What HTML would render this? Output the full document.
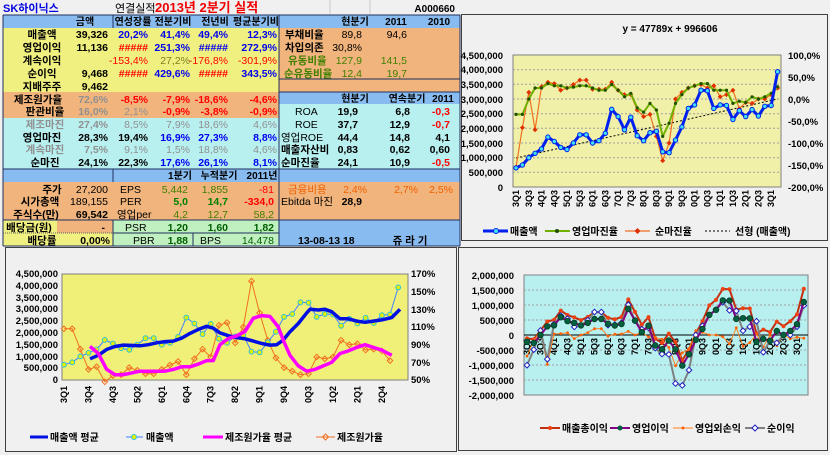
<!DOCTYPE html>
<html><head><meta charset="utf-8"><style>
body{margin:0;background:#f0f0f0;}
svg{display:block;font-family:"Liberation Sans","Noto Sans CJK KR","NanumGothic",sans-serif;font-weight:bold;}
.xl text{font-size:9px;text-anchor:end;}
</style></head><body>
<svg width="830" height="455" viewBox="0 0 830 455" xmlns="http://www.w3.org/2000/svg">
<defs>
<marker id="mB" markerUnits="userSpaceOnUse" markerWidth="8" markerHeight="8" refX="4" refY="4"><circle cx="4" cy="4" r="2.2" fill="#40e0f0" stroke="#0020f0" stroke-width="1"/></marker>
<marker id="mG" markerUnits="userSpaceOnUse" markerWidth="6" markerHeight="6" refX="3" refY="3"><circle cx="3" cy="3" r="1.6" fill="#205000"/></marker>
<marker id="mR" markerUnits="userSpaceOnUse" markerWidth="8" markerHeight="8" refX="4" refY="4"><polygon points="4,1.5 6.5,4 4,6.5 1.5,4" fill="#e03000"/></marker>
<marker id="mS" markerUnits="userSpaceOnUse" markerWidth="8" markerHeight="8" refX="4" refY="4"><circle cx="4" cy="4" r="2.4" fill="#e0f000" stroke="#30c0e0" stroke-width="1"/></marker>
<marker id="mC" markerUnits="userSpaceOnUse" markerWidth="8" markerHeight="8" refX="4" refY="4"><polygon points="4,1.2 6.8,4 4,6.8 1.2,4" fill="none" stroke="#f07020" stroke-width="1"/></marker>
<marker id="mGr" markerUnits="userSpaceOnUse" markerWidth="6" markerHeight="6" refX="3" refY="3"><circle cx="3" cy="3" r="2" fill="#f04010"/></marker>
<marker id="mO" markerUnits="userSpaceOnUse" markerWidth="8" markerHeight="8" refX="4" refY="4"><circle cx="4" cy="4" r="2.8" fill="#006040" stroke="#004020" stroke-width="0.8"/></marker>
<marker id="mN" markerUnits="userSpaceOnUse" markerWidth="4" markerHeight="4" refX="2" refY="2"><circle cx="2" cy="2" r="1.4" fill="#ff6000"/></marker>
<marker id="mT" markerUnits="userSpaceOnUse" markerWidth="8" markerHeight="8" refX="4" refY="4"><polygon points="4,1.2 6.8,4 4,6.8 1.2,4" fill="#fff" stroke="#2020c0" stroke-width="1"/></marker>
</defs>
<rect width="830" height="455" fill="#f0f0f0"/>
<text x="3" y="12" fill="#0000e0" font-size="11">SK하이닉스</text>
<text x="115" y="12" fill="#000" font-size="11" font-weight="normal">연결실적</text>
<text x="155" y="12" fill="#f00000" font-size="13">2013년 2분기 실적</text>
<text x="455" y="12" fill="#000" font-size="10" text-anchor="end">A000660</text>
<line x1="330" y1="0" x2="330" y2="14" stroke="#c8c8c8"/><line x1="370" y1="0" x2="370" y2="14" stroke="#c8c8c8"/>
<rect x="3" y="15" width="457" height="13" fill="#88bcf0"/>
<rect x="3" y="28" width="276" height="64" fill="#f0f080"/>
<rect x="279" y="28" width="181" height="64" fill="#f0b47c"/>
<rect x="3" y="92" width="276" height="26" fill="#f0b47c"/>
<rect x="279" y="92" width="181" height="12" fill="#88bcf0"/>
<rect x="279" y="104" width="181" height="65" fill="#b8f0f0"/>
<rect x="3" y="118" width="276" height="51" fill="#b8f0f0"/>
<rect x="3" y="169" width="457" height="13" fill="#88bcf0"/>
<rect x="3" y="182" width="457" height="38" fill="#f0b47c"/>
<rect x="3" y="220" width="54" height="26" fill="#f0f080"/>
<rect x="57" y="220" width="56" height="13" fill="#f0b47c"/>
<rect x="57" y="233" width="56" height="13" fill="#f0f080"/>
<rect x="113" y="220" width="166" height="26" fill="#c0f0c0"/>
<rect x="279" y="220" width="181" height="26" fill="#88bcf0"/>
<g stroke="#203060" stroke-width="1">
<line x1="3" y1="15" x2="460" y2="15"/><line x1="3" y1="15" x2="3" y2="246"/><line x1="460" y1="15" x2="460" y2="246"/>
<line x1="279" y1="15" x2="279" y2="246"/><line x1="113" y1="15" x2="113" y2="28"/>
<line x1="279" y1="79" x2="460" y2="79"/><line x1="279" y1="92" x2="460" y2="92"/>
<line x1="3" y1="169" x2="460" y2="169"/><line x1="113" y1="169" x2="113" y2="182"/>
<line x1="3" y1="220" x2="460" y2="220"/><line x1="113" y1="220" x2="113" y2="246"/>
<line x1="193" y1="233" x2="193" y2="246"/><line x1="113" y1="233" x2="279" y2="233"/>
<line x1="3" y1="246" x2="460" y2="246"/>
</g>
<line x1="3" y1="233" x2="113" y2="233" stroke="#606060" stroke-dasharray="1,1"/>
<g font-size="10.5">
<g fill="#000" text-anchor="middle" font-size="10">
<text x="85" y="25">금액</text><text x="133" y="25">연성장률</text><text x="173" y="25">전분기비</text>
<text x="215" y="25">전년비</text><text x="256" y="25">평균분기비</text>
<text x="355" y="25">현분기</text><text x="396" y="25">2011</text><text x="439" y="25">2010</text>
<text x="355" y="102">현분기</text><text x="407" y="102">연속분기</text><text x="443" y="102">2011</text>
<text x="180" y="179">1분기</text><text x="219" y="179">누적분기</text><text x="262" y="179">2011년</text>
</g>
<g text-anchor="middle" fill="#000">
<text x="42" y="38">매출액</text><text x="42" y="51">영업이익</text><text x="42" y="64">계속이익</text>
<text x="42" y="77">순이익</text><text x="42" y="90">지배주주</text>
<text x="38" y="103">제조원가율</text><text x="45" y="115">판관비율</text><text x="45" y="128" fill="#909090">제조마진</text>
<text x="42" y="141">영업마진</text><text x="45" y="153" fill="#909090">계속마진</text><text x="45" y="166">순마진</text>
<text x="52" y="193">주가</text><text x="40" y="205">시가총액</text><text x="36" y="218">주식수(만)</text>
<text x="29" y="231">배당금(원)</text><text x="42" y="244">배당률</text>
</g>
<g text-anchor="end">
<text x="108" y="38">39,326</text><text x="108" y="51">11,136</text><text x="108" y="77">9,468</text><text x="108" y="90">9,462</text>
<text x="108" y="103" fill="#909090">72,6%</text><text x="108" y="115" fill="#909090">16,0%</text><text x="108" y="128" fill="#909090">27,4%</text>
<text x="108" y="141">28,3%</text><text x="108" y="153" fill="#909090">7,5%</text><text x="108" y="166">24,1%</text>
<text x="108" y="193" font-weight="normal">27,200</text><text x="108" y="205" font-weight="normal">189,155</text><text x="108" y="218">69,542</text>
<text x="105" y="231">-</text><text x="110" y="244">0,00%</text>
<text x="148" y="38" fill="#0000f0">20,2%</text><text x="148" y="51" fill="#f00">#####</text><text x="148" y="64" fill="#f00" font-weight="normal">-153,4%</text>
<text x="148" y="77" fill="#f00">#####</text><text x="148" y="103" fill="#f00">-8,5%</text><text x="148" y="115" fill="#909090" font-weight="normal">2,1%</text>
<text x="148" y="128" fill="#909090" font-weight="normal">8,5%</text><text x="148" y="141">19,4%</text><text x="148" y="153" fill="#909090" font-weight="normal">9,1%</text><text x="148" y="166">22,3%</text>
<text x="190" y="38" fill="#0000f0">41,4%</text><text x="190" y="51" fill="#0000f0">251,3%</text><text x="190" y="64" fill="#808020" font-weight="normal">27,2%</text>
<text x="190" y="77" fill="#0000f0">429,6%</text><text x="190" y="103" fill="#f00">-7,9%</text><text x="190" y="115" fill="#f00">-0,9%</text>
<text x="190" y="128" fill="#909090" font-weight="normal">7,9%</text><text x="190" y="141" fill="#0000f0">16,9%</text><text x="190" y="153" fill="#909090" font-weight="normal">1,5%</text><text x="190" y="166" fill="#0000f0">17,6%</text>
<text x="228" y="38" fill="#0000f0">49,4%</text><text x="228" y="51" fill="#0000f0">#####</text><text x="228" y="64" fill="#f00" font-weight="normal">-176,8%</text>
<text x="228" y="77" fill="#f00">#####</text><text x="228" y="103" fill="#f00">-18,6%</text><text x="228" y="115" fill="#f00">-3,8%</text>
<text x="228" y="128" fill="#909090" font-weight="normal">18,6%</text><text x="228" y="141" fill="#0000f0">27,3%</text><text x="228" y="153" fill="#909090" font-weight="normal">18,8%</text><text x="228" y="166" fill="#0000f0">26,1%</text>
<text x="277" y="38" fill="#0000f0">12,3%</text><text x="277" y="51" fill="#0000f0">272,9%</text><text x="277" y="64" fill="#f00" font-weight="normal">-301,9%</text>
<text x="277" y="77" fill="#0000f0">343,5%</text><text x="277" y="103" fill="#f00">-4,6%</text><text x="277" y="115" fill="#f00">-0,9%</text>
<text x="277" y="128" fill="#909090" font-weight="normal">4,6%</text><text x="277" y="141" fill="#0000f0">8,8%</text><text x="277" y="153" fill="#909090" font-weight="normal">4,6%</text><text x="277" y="166" fill="#0000f0">8,1%</text>
<text x="188" y="193" fill="#408000" font-weight="normal">5,442</text><text x="228" y="193" fill="#408000" font-weight="normal">1,855</text><text x="274" y="193" fill="#f00" font-weight="normal">-81</text>
<text x="188" y="205" fill="#008000">5,0</text><text x="228" y="205" fill="#008000">14,7</text><text x="274" y="205" fill="#f00">-334,0</text>
<text x="188" y="218" fill="#408000" font-weight="normal">4,2</text><text x="228" y="218" fill="#408000" font-weight="normal">12,7</text><text x="274" y="218" fill="#408000" font-weight="normal">58,2</text>
<text x="188" y="231" fill="#006000">1,20</text><text x="228" y="231" fill="#006000">1,60</text><text x="274" y="231" fill="#006000">1,82</text>
<text x="188" y="244" fill="#006000">1,88</text><text x="274" y="244" fill="#006000" font-weight="normal">14,478</text>
<text x="362" y="38" font-weight="normal">89,8</text><text x="407" y="38" font-weight="normal">94,6</text>
<text x="362" y="51" font-weight="normal">30,8%</text>
<text x="362" y="64" fill="#408000" font-weight="normal">127,9</text><text x="407" y="64" fill="#408000" font-weight="normal">141,5</text>
<text x="362" y="77" fill="#408000" font-weight="normal">12,4</text><text x="407" y="77" fill="#408000" font-weight="normal">19,7</text>
<text x="358" y="115">19,9</text><text x="410" y="115">6,8</text><text x="450" y="115" fill="#f00">-0,3</text>
<text x="358" y="128">37,7</text><text x="410" y="128">12,9</text><text x="450" y="128" fill="#f00">-0,7</text>
<text x="358" y="141">44,4</text><text x="410" y="141">14,8</text><text x="450" y="141">4,1</text>
<text x="358" y="153">0,83</text><text x="410" y="153">0,62</text><text x="450" y="153">0,60</text>
<text x="358" y="166">24,1</text><text x="410" y="166">10,9</text><text x="450" y="166" fill="#f00">-0,5</text>
<text x="367" y="193" fill="#f06000" font-weight="normal">2,4%</text><text x="418" y="193" fill="#f06000" font-weight="normal">2,7%</text><text x="453" y="193" fill="#f06000" font-weight="normal">2,5%</text>
<text x="362" y="205">28,9</text>
</g>
<g fill="#000">
<text x="285" y="38">부채비율</text><text x="285" y="51">차입의존</text>
<text x="288" y="64" fill="#408000">유동비율</text><text x="284" y="77" fill="#408000">순유동비율</text>
<text x="295" y="115" font-weight="normal">ROA</text><text x="295" y="128" font-weight="normal">ROE</text>
<text x="281" y="141" font-weight="normal">영업ROE</text><text x="281" y="153">매출자산비</text><text x="281" y="166">순마진율</text>
<text x="288" y="193" fill="#f06000" font-weight="normal">금융비용</text><text x="281" y="205" font-weight="normal">Ebitda 마진</text>
<text x="120" y="193" font-weight="normal">EPS</text><text x="120" y="205" font-weight="normal">PER</text><text x="117" y="218" font-weight="normal">영업per</text>
<text x="125" y="231" font-weight="normal">PSR</text><text x="133" y="244" font-weight="normal">PBR</text><text x="200" y="244" font-weight="normal">BPS</text>
<text x="298" y="244">13-08-13 18</text><text x="410" y="244" text-anchor="middle">쥬 라 기</text>
</g>
</g>
<!-- panels -->
<rect x="461.5" y="14.5" width="366" height="226" fill="#f0f0f0" stroke="#404040"/>
<rect x="5.5" y="247.5" width="451" height="204" fill="#f0f0f0" stroke="#404040"/>
<rect x="458.5" y="247.5" width="369" height="203" fill="#f0f0f0" stroke="#404040"/>
<rect x="513" y="55" width="268" height="132" fill="#f0f0a8" stroke="#808080"/>
<rect x="62" y="274" width="346" height="106" fill="#f0f078" stroke="#808080"/>
<rect x="524" y="275" width="284" height="120" fill="#b8f0f0" stroke="#808080"/>
<g stroke="#a0a0a0" stroke-dasharray="2,2">
<line x1="513" x2="781" y1="69.7" y2="69.7"/><line x1="513" x2="781" y1="84.3" y2="84.3"/><line x1="513" x2="781" y1="99" y2="99"/><line x1="513" x2="781" y1="113.7" y2="113.7"/><line x1="513" x2="781" y1="128.3" y2="128.3"/><line x1="513" x2="781" y1="143" y2="143"/><line x1="513" x2="781" y1="157.7" y2="157.7"/><line x1="513" x2="781" y1="172.3" y2="172.3"/>
<line x1="524" x2="808" y1="290" y2="290"/><line x1="524" x2="808" y1="305" y2="305"/><line x1="524" x2="808" y1="320" y2="320"/><line x1="524" x2="808" y1="350" y2="350"/><line x1="524" x2="808" y1="365" y2="365"/><line x1="524" x2="808" y1="380" y2="380"/>
</g>
<line x1="524" x2="808" y1="335" y2="335" stroke="#000"/>
<text x="670" y="32" font-size="10" text-anchor="middle">y = 47789x + 996606</text>
<g font-size="9.5" text-anchor="end">
<text x="503" y="59">4,500,000</text><text x="503" y="73">4,000,000</text><text x="503" y="88">3,500,000</text><text x="503" y="103">3,000,000</text><text x="503" y="117">2,500,000</text><text x="503" y="132">2,000,000</text><text x="503" y="147">1,500,000</text><text x="503" y="161">1,000,000</text><text x="503" y="176">500,000</text><text x="503" y="191">0</text>
<text x="58" y="277">4,500,000</text><text x="58" y="289">4,000,000</text><text x="58" y="301">3,500,000</text><text x="58" y="312">3,000,000</text><text x="58" y="324">2,500,000</text><text x="58" y="336">2,000,000</text><text x="58" y="348">1,500,000</text><text x="58" y="360">1,000,000</text><text x="58" y="371">500,000</text><text x="58" y="383">0</text>
<text x="514" y="279">2,000,000</text><text x="514" y="294">1,500,000</text><text x="514" y="309">1,000,000</text><text x="514" y="324">500,000</text><text x="514" y="339">0</text><text x="514" y="354">-500,000</text><text x="514" y="369">-1,000,000</text><text x="514" y="384">-1,500,000</text><text x="514" y="399">-2,000,000</text>
</g>
<g font-size="9.5">
<text x="788" y="59">100,0%</text><text x="788" y="81">50,0%</text><text x="788" y="103">0,0%</text><text x="788" y="125">-50,0%</text><text x="788" y="147">-100,0%</text><text x="788" y="169">-150,0%</text><text x="788" y="191">-200,0%</text>
<text x="411" y="277">170%</text><text x="411" y="295">150%</text><text x="411" y="313">130%</text><text x="411" y="330">110%</text><text x="411" y="348">90%</text><text x="411" y="366">70%</text><text x="411" y="383">50%</text>
</g>
<!-- top-right series -->
<g fill="none" stroke-linejoin="round">
<polyline stroke="#000" stroke-dasharray="2,2" points="516,158 777.6,99"/>
<polyline stroke="#f07020" stroke-width="1.2" marker-start="url(#mR)" marker-mid="url(#mR)" marker-end="url(#mR)" points="516,167.2 522.4,127.6 528.8,92.4 535.1,129.8 541.5,86.7 547.9,82.3 554.3,83.6 560.7,90.2 567,88 573.4,84.5 579.8,80.1 586.2,80.1 592.6,89.3 598.9,89.3 605.3,89.3 611.7,82.3 618.1,90.2 624.5,94.6 630.8,94.6 637.2,110 643.6,116.6 650,114.4 656.4,136.4 662.7,160.6 669.1,143 675.5,99 681.9,92.4 688.3,88 694.6,85.8 701,84.5 707.4,88 713.8,85.8 720.2,96.8 726.5,94.6 732.9,90.2 739.3,108.7 745.7,102.5 752.1,103.4 758.4,99 764.8,99 771.2,94.6 777.6,88"/>
<polyline stroke="#70b000" stroke-width="2" marker-start="url(#mG)" marker-mid="url(#mG)" marker-end="url(#mG)" points="516,114.4 522.4,114.4 528.8,99 535.1,88 541.5,88 547.9,83.6 554.3,85.8 560.7,85.8 567,88 573.4,87.1 579.8,85.8 586.2,85.8 592.6,88 598.9,90.2 605.3,90.2 611.7,84.5 618.1,90.2 624.5,96.8 630.8,93.3 637.2,107.8 643.6,112.2 650,103.4 656.4,110 662.7,136.4 669.1,123.2 675.5,103.4 681.9,94.6 688.3,88 694.6,85.8 701,83.6 707.4,83.6 713.8,90.2 720.2,90.2 726.5,90.2 732.9,103.4 739.3,101.2 745.7,102.5 752.1,96.8 758.4,99 764.8,96.8 771.2,93.3 777.6,86.7"/>
<polyline stroke="#0020f0" stroke-width="3" marker-start="url(#mB)" marker-mid="url(#mB)" marker-end="url(#mB)" points="516,167.9 522.4,165 528.8,157.7 535.1,153.3 541.5,148.9 547.9,137.1 554.3,141.5 560.7,147.4 567,149.5 573.4,143 579.8,134.8 586.2,134.8 592.6,143 598.9,140.7 605.3,133.3 611.7,109.3 618.1,116.6 624.5,129.8 630.8,117.2 637.2,135.7 643.6,140.7 650,132.7 656.4,131.3 662.7,151.8 669.1,152.7 675.5,140.1 681.9,126.9 688.3,108.4 694.6,104.9 701,90.2 707.4,90.8 713.8,108.4 720.2,104.9 726.5,105.5 732.9,119.5 739.3,110.7 745.7,116.6 752.1,109.6 758.4,116 764.8,106.3 771.2,105.5 777.6,71.7"/>
</g>
<g class="xl">
<text transform="translate(519,190) rotate(-90)">3Q1</text><text transform="translate(531.8,190) rotate(-90)">3Q3</text><text transform="translate(544.5,190) rotate(-90)">4Q1</text><text transform="translate(557.3,190) rotate(-90)">4Q3</text><text transform="translate(570,190) rotate(-90)">5Q1</text><text transform="translate(582.8,190) rotate(-90)">5Q3</text><text transform="translate(595.6,190) rotate(-90)">6Q1</text><text transform="translate(608.3,190) rotate(-90)">6Q3</text><text transform="translate(621.1,190) rotate(-90)">7Q1</text><text transform="translate(633.8,190) rotate(-90)">7Q3</text><text transform="translate(646.6,190) rotate(-90)">8Q1</text><text transform="translate(659.4,190) rotate(-90)">8Q3</text><text transform="translate(672.1,190) rotate(-90)">9Q1</text><text transform="translate(684.9,190) rotate(-90)">9Q3</text><text transform="translate(697.6,190) rotate(-90)">0Q1</text><text transform="translate(710.4,190) rotate(-90)">0Q3</text><text transform="translate(723.2,190) rotate(-90)">1Q1</text><text transform="translate(735.9,190) rotate(-90)">1Q3</text><text transform="translate(748.7,190) rotate(-90)">2Q1</text><text transform="translate(761.4,190) rotate(-90)">2Q3</text><text transform="translate(774.2,190) rotate(-90)">3Q1</text>
</g>
<!-- bottom-left series -->
<g fill="none" stroke-linejoin="round">
<polyline stroke="#f07020" stroke-width="1" marker-start="url(#mC)" marker-mid="url(#mC)" marker-end="url(#mC)" points="64,328.8 72.2,328.8 80.3,349.1 88.5,369.4 96.6,366.8 104.8,381.8 112.9,375.6 121.1,374.7 129.2,367.6 137.4,370.3 145.5,373.8 153.7,373.8 161.8,369.4 170,365 178.1,361.5 186.3,374.7 194.4,358.8 202.6,349.1 210.7,357 218.9,325.2 227,322.6 235.2,342.9 243.3,327 251.5,281.1 259.6,312.9 267.8,340.3 275.9,357.9 284.1,367.6 292.2,371.2 300.4,374.7 308.5,373.8 316.7,357 324.8,358.8 333,357 341.1,340.3 349.3,344.7 357.4,343.8 365.6,350 373.7,349.1 381.9,350.9 390,360.6"/>
<polyline stroke="#4080ff" stroke-width="1" marker-start="url(#mS)" marker-mid="url(#mS)" marker-end="url(#mS)" points="64,364.7 72.2,362.3 80.3,356.4 88.5,352.9 96.6,349.4 104.8,340 112.9,343.5 121.1,348.2 129.2,349.8 137.4,344.7 145.5,338.1 153.7,338.1 161.8,344.7 170,342.8 178.1,336.9 186.3,317.6 194.4,323.5 202.6,334.1 210.7,323.9 218.9,338.8 227,342.8 235.2,336.4 243.3,335.2 251.5,351.7 259.6,352.4 267.8,342.3 275.9,331.7 284.1,316.9 292.2,314 300.4,302.3 308.5,302.7 316.7,316.9 324.8,314 333,314.5 341.1,325.8 349.3,318.8 357.4,323.5 365.6,317.8 373.7,323 381.9,315.2 390,314.5 398.2,287.4"/>
<polyline stroke="#0010e0" stroke-width="3.5" points="90,358.8 98.3,355.3 106.7,349.4 115,346.5 123.3,345.1 131.7,345.4 140,345.8 148.3,344.7 156.7,342.8 165,341.6 173.3,341.1 181.7,338.1 190,333.4 198.3,329.4 206.7,326.3 213.3,328.2 220,332.9 228.3,335.7 236.7,337.6 245,338.8 253.3,341.1 261.7,343.5 270,345.1 276.7,344.7 283.3,340 290,331.7 298.3,323.5 306.7,312.9 310,309.3 318.3,310 325,309.3 331.7,311.7 340,318.8 348.3,318.8 356.7,321.1 365,322.3 373.3,321.1 381.7,319.9 391.7,317.6 400,309.3"/>
<polyline stroke="#ff00ff" stroke-width="3.5" points="90,346.4 98.3,353.5 106.7,369.4 115,374.7 123.3,374.7 131.7,372.9 140,371.2 148.3,371.2 156.7,371.2 165,371.2 173.3,369.4 181.7,366.8 190,366.8 198.3,364.1 206.7,360.6 213.3,360.6 220,344.7 228.3,338.5 236.7,335.8 245,331.4 253.3,318.2 261.7,315.6 270,316.4 278.3,327 283.3,340.3 290,355.3 298.3,365.9 306.7,371.2 315,369.4 323.3,365.9 331.7,362.3 340,353.5 348.3,350.9 356.7,347.4 365,344.7 373.3,347.4 381.7,350 391.7,355.3"/>
</g>
<g class="xl">
<text transform="translate(67,386) rotate(-90)">3Q1</text><text transform="translate(91.5,386) rotate(-90)">3Q4</text><text transform="translate(115.9,386) rotate(-90)">4Q3</text><text transform="translate(140.4,386) rotate(-90)">5Q2</text><text transform="translate(164.8,386) rotate(-90)">6Q1</text><text transform="translate(189.3,386) rotate(-90)">6Q4</text><text transform="translate(213.7,386) rotate(-90)">7Q3</text><text transform="translate(238.2,386) rotate(-90)">8Q2</text><text transform="translate(262.6,386) rotate(-90)">9Q1</text><text transform="translate(287.1,386) rotate(-90)">9Q4</text><text transform="translate(311.5,386) rotate(-90)">0Q3</text><text transform="translate(336,386) rotate(-90)">1Q2</text><text transform="translate(360.4,386) rotate(-90)">2Q1</text><text transform="translate(384.9,386) rotate(-90)">2Q4</text>
</g>
<!-- bottom-right series -->
<g class="xl">
<text transform="translate(530,338) rotate(-90)">3Q1</text><text transform="translate(543.5,338) rotate(-90)">3Q3</text><text transform="translate(557,338) rotate(-90)">4Q1</text><text transform="translate(570.5,338) rotate(-90)">4Q3</text><text transform="translate(584,338) rotate(-90)">5Q1</text><text transform="translate(597.5,338) rotate(-90)">5Q3</text><text transform="translate(611,338) rotate(-90)">6Q1</text><text transform="translate(624.5,338) rotate(-90)">6Q3</text><text transform="translate(638,338) rotate(-90)">7Q1</text><text transform="translate(651.5,338) rotate(-90)">7Q3</text><text transform="translate(665,338) rotate(-90)">8Q1</text><text transform="translate(678.5,338) rotate(-90)">8Q3</text><text transform="translate(692,338) rotate(-90)">9Q1</text><text transform="translate(705.5,338) rotate(-90)">9Q3</text><text transform="translate(719,338) rotate(-90)">0Q1</text><text transform="translate(732.5,338) rotate(-90)">0Q3</text><text transform="translate(746,338) rotate(-90)">1Q1</text><text transform="translate(759.5,338) rotate(-90)">1Q3</text><text transform="translate(773,338) rotate(-90)">2Q1</text><text transform="translate(786.5,338) rotate(-90)">2Q3</text><text transform="translate(800,338) rotate(-90)">3Q1</text>
</g>
<g fill="none" stroke-linejoin="round">
<polyline stroke="#c03010" stroke-width="2" marker-start="url(#mGr)" marker-mid="url(#mGr)" marker-end="url(#mGr)" points="527,338.4 533.8,339.2 540.5,330.5 547.3,321.5 554,319.9 560.8,310.6 567.5,315 574.3,317.4 581,320.1 587.8,316.9 594.5,312.2 601.3,312.2 608,317.8 614.8,319.3 621.5,317 628.3,299.4 635,311.9 641.8,324.8 648.5,317.1 655.3,338.8 662,343 668.8,333.6 675.5,342.1 682.3,360.5 689,349.3 695.8,333.5 702.5,321.3 709.3,305.4 716,299.9 722.8,289 729.5,289.3 736.3,309.4 743,308.3 749.8,308.5 756.5,333.5 763.3,329.6 770,332.1 776.8,321.6 783.5,326.2 790.3,321.2 797,314.4 803.8,288.7"/>
<polyline stroke="#ff8020" stroke-width="1" marker-start="url(#mN)" marker-mid="url(#mN)" marker-end="url(#mN)" points="527,356.1 533.8,341 540.5,331 547.3,364.5 554,333.9 560.8,333.6 567.5,332.8 574.3,338.6 581,335 587.8,332.6 594.5,328.7 601.3,328.7 608,336.2 614.8,334.2 621.5,334 628.3,331.4 635,335 641.8,332.4 648.5,337 655.3,337.3 662,339.3 668.8,347.4 675.5,365.8 682.3,352.8 689,349.2 695.8,330.7 702.5,332.2 709.3,335 716,335 722.8,336.7 729.5,343.8 736.3,327.8 743,346.3 749.8,342.6 756.5,334 763.3,347 770,335 776.8,345.7 783.5,335 790.3,338.7 797,337.3 803.8,338.2"/>
<polyline stroke="#808080" stroke-width="2" marker-start="url(#mT)" marker-mid="url(#mT)" marker-end="url(#mT)" points="527,365.2 533.8,349.6 540.5,330.5 547.3,359.2 554,324.1 560.8,315.6 567.5,318.7 574.3,326.9 581,325.4 587.8,320.2 594.5,312 601.3,312 608,325.1 614.8,324.6 621.5,322.9 628.3,304.8 635,320.6 641.8,329.2 648.5,327.9 655.3,348.1 662,354 668.8,354.4 675.5,383.5 682.3,385.4 689,370.1 695.8,335 702.5,325.8 709.3,314.9 716,309.8 722.8,302.3 729.5,310.4 736.3,310.9 743,330.8 749.8,326.7 756.5,321.2 763.3,352.2 770,340.8 776.8,342.9 783.5,335 790.3,335 797,326.7 803.8,305.5"/>
<polyline stroke="#800080" stroke-width="2" marker-start="url(#mO)" marker-mid="url(#mO)" marker-end="url(#mO)" points="527,341.8 533.8,342.9 540.5,335 547.3,326.4 554,325.3 560.8,317.2 567.5,321.1 574.3,322.9 581,325.4 587.8,322.9 594.5,319 601.3,319 608,323.8 614.8,325.5 621.5,324 628.3,308.8 635,320.6 641.8,332.1 648.5,325.7 655.3,345.5 662,349.2 668.8,340.6 675.5,349.3 682.3,365.6 689,354.3 695.8,339.8 702.5,328.9 709.3,314.9 716,309.8 722.8,300.4 729.5,300.6 736.3,318.9 743,318.2 749.8,318.3 756.5,341.9 763.3,338.9 770,340.8 776.8,331 783.5,335 790.3,330.9 797,324.2 803.8,302"/>
</g>
<!-- legends -->
<g font-size="10">
<line x1="483" y1="231" x2="508" y2="231" stroke="#0020f0" stroke-width="3"/><circle cx="496" cy="231" r="2.5" fill="#40e0f0" stroke="#0020f0"/><text x="510" y="235">매출액</text>
<line x1="545" y1="231" x2="570" y2="231" stroke="#70b000" stroke-width="2"/><circle cx="557" cy="231" r="2" fill="#205000"/><text x="572" y="235">영업마진율</text>
<line x1="625" y1="231" x2="650" y2="231" stroke="#f07020" stroke-width="1.2"/><polygon points="637.5,228 640.5,231 637.5,234 634.5,231" fill="#e03000"/><text x="655" y="235">순마진율</text>
<line x1="705" y1="231" x2="730" y2="231" stroke="#000" stroke-dasharray="2,2"/><text x="735" y="235">선형 (매출액)</text>
<line x1="30" y1="437" x2="48" y2="437" stroke="#0010e0" stroke-width="3"/><text x="50" y="441">매출액 평균</text>
<line x1="126" y1="437" x2="143" y2="437" stroke="#4080ff"/><circle cx="134" cy="437" r="2.5" fill="#e0f000" stroke="#30c0e0"/><text x="146" y="441">매출액</text>
<line x1="203" y1="437" x2="223" y2="437" stroke="#ff00ff" stroke-width="3"/><text x="225" y="441">제조원가율 평균</text>
<line x1="316" y1="437" x2="335" y2="437" stroke="#f07020"/><polygon points="325.5,434 328.5,437 325.5,440 322.5,437" fill="none" stroke="#f07020"/><text x="337" y="441">제조원가율</text>
<line x1="540" y1="428" x2="560" y2="428" stroke="#c03010" stroke-width="2"/><circle cx="550" cy="428" r="2" fill="#f04010"/><text x="562" y="432">매출총이익</text>
<line x1="610" y1="428" x2="630" y2="428" stroke="#800080" stroke-width="2"/><circle cx="620" cy="428" r="2.5" fill="#006040"/><text x="632" y="432">영업이익</text>
<line x1="673" y1="428" x2="693" y2="428" stroke="#ff8020"/><circle cx="683" cy="428" r="1.5" fill="#ff6000"/><text x="695" y="432">영업외손익</text>
<line x1="745" y1="428" x2="765" y2="428" stroke="#808080" stroke-width="2"/><polygon points="755,425 758,428 755,431 752,428" fill="#fff" stroke="#2020c0"/><text x="767" y="432">순이익</text>
</g>
</svg>
</body></html>
